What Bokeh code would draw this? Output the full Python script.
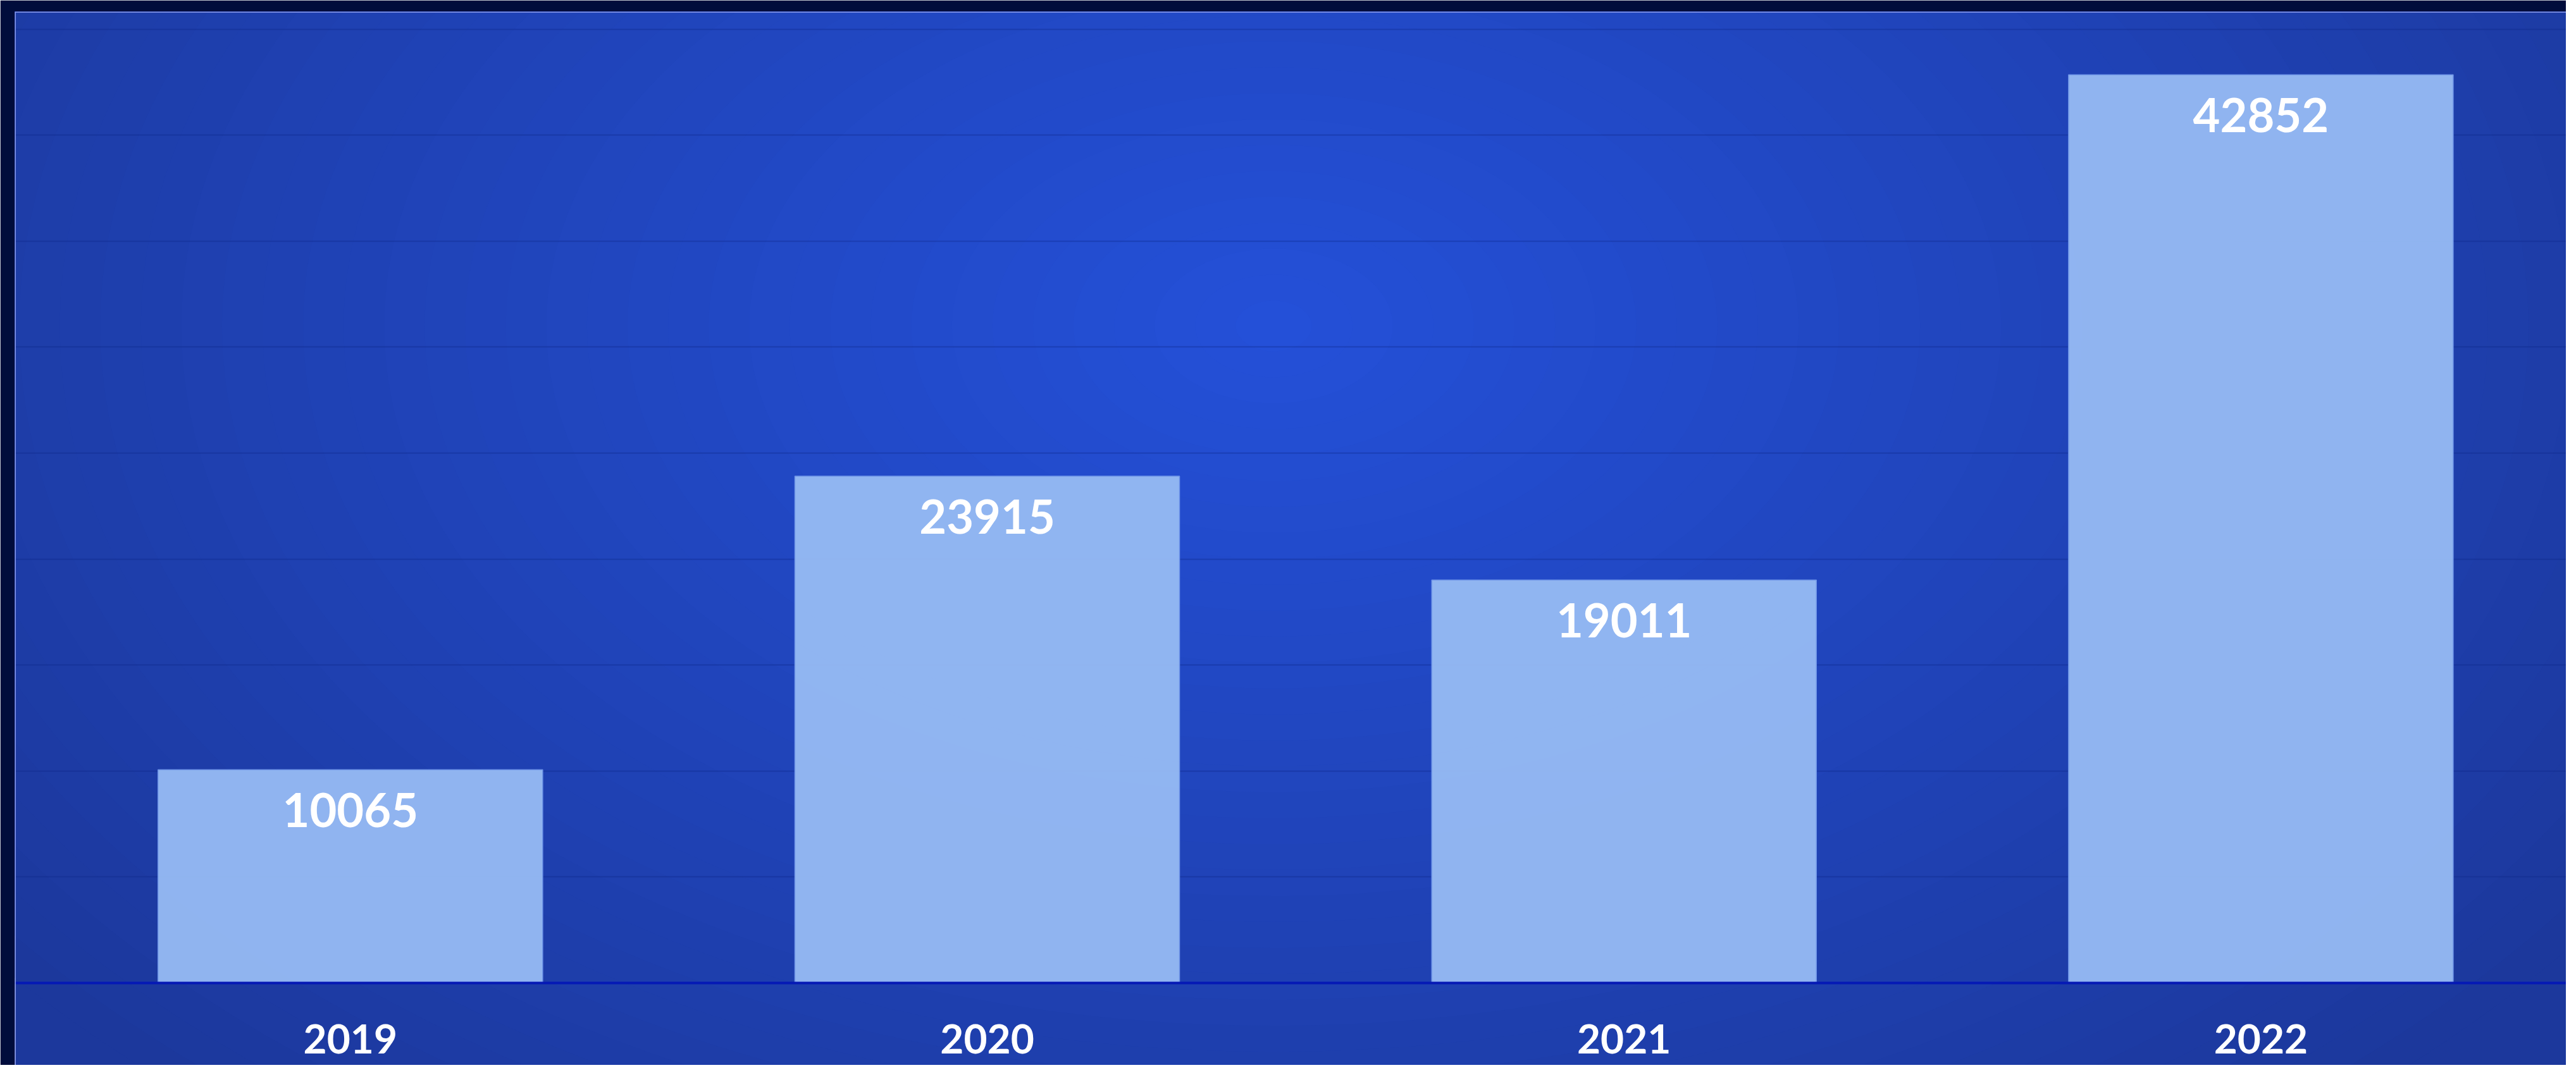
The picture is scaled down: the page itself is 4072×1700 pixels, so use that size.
from bokeh.plotting import figure
from bokeh.models import Range1d, FixedTicker, Span
from bokeh.core.properties import value
from bokeh.embed import file_html
from bokeh.resources import INLINE

# ---- data ----
years = ["2019", "2020", "2021", "2022"]
counts = [10065, 23915, 19011, 42852]
grid_ticks = [5000, 10000, 15000, 20000, 25000, 30000, 35000, 40000, 45000]

x_pos = list(range(len(years)))
labels = [str(c) for c in counts]

W, H = 4056, 1684
X0, X1 = -0.5268, 3.4794
Y0, Y1 = -3878.5, 45826

p = figure(width=W, height=H, output_backend="svg", toolbar_location=None,
           x_range=Range1d(X0, X1), y_range=Range1d(Y0, Y1),
           min_border_left=23, min_border_top=18, min_border_right=0,
           min_border_bottom=0, x_axis_location=None, y_axis_location=None)

p.background_fill_color = "#1c389c"
p.border_fill_color = "#000c3c"
p.outline_line_color = None

# soft radial background glow (decoration)
n = 40
c_in = (0x24, 0x50, 0xd8)
c_out = (0x1c, 0x38, 0x9c)
for i in range(n):
    t = 1 - i / (n - 1)
    col = "#%02x%02x%02x" % tuple(int(round(c_in[k] + (c_out[k] - c_in[k]) * t)) for k in range(3))
    p.ellipse(x=[1.45], y=[31000], width=[5000 * t + 120], height=[3200 * t + 80],
              width_units="screen", height_units="screen",
              fill_color=col, line_color=None, level="image")

# grid
p.xgrid.visible = False
p.ygrid.ticker = FixedTicker(ticks=grid_ticks)
p.ygrid.grid_line_color = "#0c2584"
p.ygrid.grid_line_alpha = 0.35
p.ygrid.grid_line_width = 2

# bars
p.vbar(x=x_pos, top=counts, bottom=0, width=0.604,
       fill_color="#95b9f3", fill_alpha=0.96, line_color="#7096e8", line_width=1.5)

# value labels
p.text(x=x_pos, y=counts, text=labels, text_align="center", text_baseline="middle",
       y_offset=64, text_font=value("Lato"), text_font_style="bold",
       text_font_size="74px", text_color="white")

# category (tick) labels under the baseline
p.text(x=x_pos, y=[0] * len(years), text=years, text_align="center", text_baseline="middle",
       y_offset=88, text_font=value("Lato"), text_font_style="bold",
       text_font_size="64px", text_color="white")

# baseline (x axis line)
p.add_layout(Span(location=0, dimension="width", line_color="#0519b5", line_width=4))

# light panel border (top and left)
p.add_layout(Span(location=Y1, dimension="width", line_color="#8797ea", line_width=3))
p.add_layout(Span(location=X0, dimension="height", line_color="#8797ea", line_width=3))

open("out.html", "w").write(file_html(p, INLINE))
